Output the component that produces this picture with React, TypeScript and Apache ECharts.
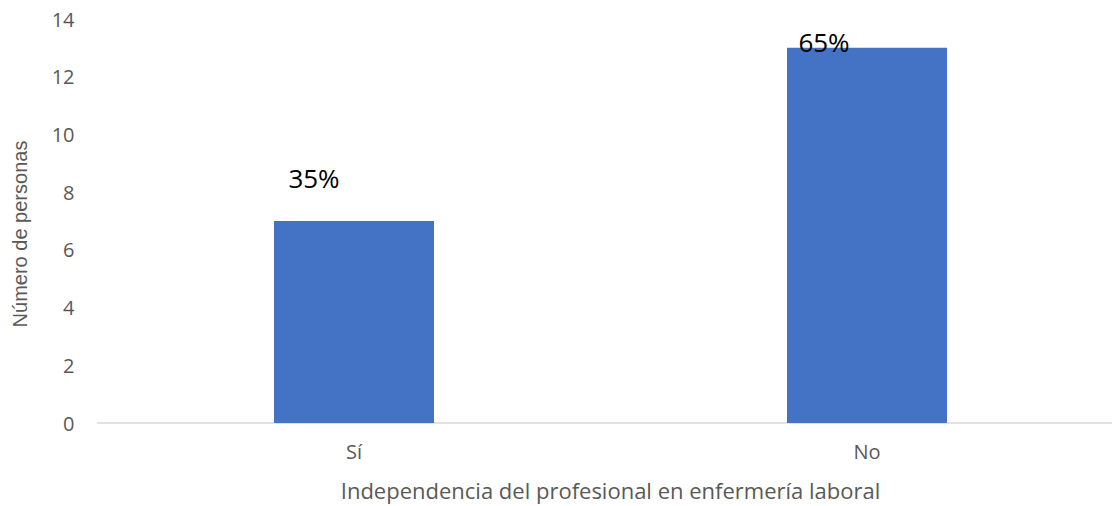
import React, { useEffect, useRef } from "react";
import * as echarts from "echarts";

const categories = ["Sí", "No"];
const values = [7, 13];
const percentLabels = ["35%", "65%"];
const yTicks = { min: 0, max: 14, interval: 2 };

export default function App() {
  const ref = useRef<HTMLDivElement>(null);
  useEffect(() => {
    if (!ref.current) return;
    const chart = echarts.init(ref.current, undefined, { renderer: "svg" });
    const labelOffsets = [[-40, -25], [-43, 12]];
    chart.setOption({
      animation: false,
      grid: { left: 97.5, top: 19, width: 1026, bottom: 83, outerBoundsMode: "none", containLabel: false },
      xAxis: {
        type: "category",
        data: categories,
        name: "Independencia del profesional en enfermería laboral",
        nameLocation: "middle",
        nameGap: 56,
        nameTextStyle: { color: "#595959", fontSize: 22, fontFamily: "Open Sans" },
        axisLine: { lineStyle: { color: "#d9d9d9", width: 1.5 } },
        axisTick: { show: false },
        axisLabel: { color: "#595959", fontSize: 20, fontFamily: "Open Sans", margin: 18 },
      },
      yAxis: {
        type: "value",
        min: yTicks.min,
        max: yTicks.max,
        interval: yTicks.interval,
        name: "Número de personas",
        nameLocation: "middle",
        nameGap: 68,
        nameTextStyle: { color: "#595959", fontSize: 20, fontFamily: "Liberation Sans", padding: [0, 26, 0, 0] },
        axisLine: { show: false },
        axisTick: { show: false },
        splitLine: { show: false },
        axisLabel: { color: "#595959", fontSize: 20, fontFamily: "Open Sans", margin: 23 },
      },
      series: [
        {
          type: "bar",
          barWidth: 160,
          itemStyle: { color: "#4472c4" },
          data: values.map((v, i) => ({
            value: v,
            label: {
              show: true,
              position: "top",
              offset: labelOffsets[i],
              formatter: percentLabels[i],
              color: "#000000",
              fontSize: 26,
              fontFamily: "Open Sans",
            },
          })),
        },
      ],
    });
    return () => chart.dispose();
  }, []);
  return (
    <div
      ref={ref}
      style={{ position: "fixed", left: 0, top: 0, width: 1112, height: 506, background: "#fff" }}
    />
  );
}
